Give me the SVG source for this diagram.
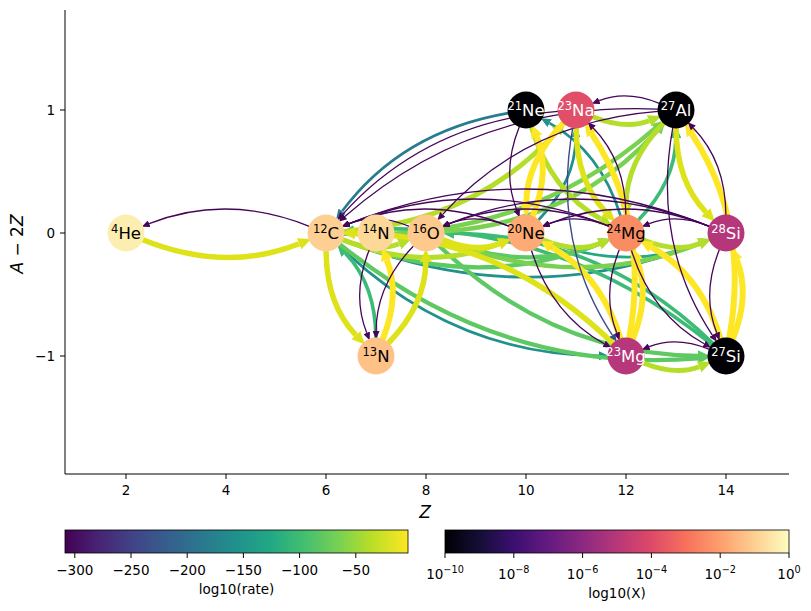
<svg xmlns="http://www.w3.org/2000/svg" width="811" height="611" viewBox="0 0 811 611">
<defs>
<linearGradient id="viridis" x1="0" x2="1" y1="0" y2="0">
<stop offset="0" stop-color="#440154"/><stop offset="0.1" stop-color="#482475"/><stop offset="0.2" stop-color="#414487"/><stop offset="0.3" stop-color="#355f8d"/><stop offset="0.4" stop-color="#2a788e"/><stop offset="0.5" stop-color="#21918c"/><stop offset="0.6" stop-color="#22a884"/><stop offset="0.7" stop-color="#44bf70"/><stop offset="0.8" stop-color="#7ad151"/><stop offset="0.9" stop-color="#bddf26"/><stop offset="1" stop-color="#fde725"/>
</linearGradient>
<linearGradient id="magma" x1="0" x2="1" y1="0" y2="0">
<stop offset="0" stop-color="#000004"/><stop offset="0.1" stop-color="#140e36"/><stop offset="0.2" stop-color="#3b0f70"/><stop offset="0.3" stop-color="#641a80"/><stop offset="0.4" stop-color="#8c2981"/><stop offset="0.5" stop-color="#b73779"/><stop offset="0.6" stop-color="#de4968"/><stop offset="0.7" stop-color="#f7705c"/><stop offset="0.8" stop-color="#fe9f6d"/><stop offset="0.9" stop-color="#fecf92"/><stop offset="1" stop-color="#fcfdbf"/>
</linearGradient>
<marker id="mp" markerUnits="userSpaceOnUse" markerWidth="8" markerHeight="7" viewBox="0 0 8 7" refX="0" refY="3.5" orient="auto"><path d="M0,0 L8,3.5 L0,7z" fill="#450559"/></marker>
<marker id="mi" markerUnits="userSpaceOnUse" markerWidth="8" markerHeight="7" viewBox="0 0 8 7" refX="0" refY="3.5" orient="auto"><path d="M0,0 L8,3.5 L0,7z" fill="#3e4a89"/></marker>
<marker id="mt1" markerUnits="userSpaceOnUse" markerWidth="10" markerHeight="9" viewBox="0 0 10 9" refX="0" refY="4.5" orient="auto"><path d="M0,0 L10,4.5 L0,9z" fill="#22a884"/></marker>
<marker id="mt2" markerUnits="userSpaceOnUse" markerWidth="10" markerHeight="9" viewBox="0 0 10 9" refX="0" refY="4.5" orient="auto"><path d="M0,0 L10,4.5 L0,9z" fill="#21918c"/></marker>
<marker id="mt3" markerUnits="userSpaceOnUse" markerWidth="10" markerHeight="9" viewBox="0 0 10 9" refX="0" refY="4.5" orient="auto"><path d="M0,0 L10,4.5 L0,9z" fill="#297b8e"/></marker>
<marker id="mg3" markerUnits="userSpaceOnUse" markerWidth="12" markerHeight="11" viewBox="0 0 12 11" refX="0" refY="5.5" orient="auto"><path d="M0,0 L12,5.5 L0,11z" fill="#3bbb75"/></marker>
<marker id="mg2" markerUnits="userSpaceOnUse" markerWidth="12" markerHeight="11" viewBox="0 0 12 11" refX="0" refY="5.5" orient="auto"><path d="M0,0 L12,5.5 L0,11z" fill="#5ec962"/></marker>
<marker id="mg1" markerUnits="userSpaceOnUse" markerWidth="12" markerHeight="11" viewBox="0 0 12 11" refX="0" refY="5.5" orient="auto"><path d="M0,0 L12,5.5 L0,11z" fill="#7ad151"/></marker>
<marker id="myg" markerUnits="userSpaceOnUse" markerWidth="13" markerHeight="12" viewBox="0 0 13 12" refX="0" refY="6" orient="auto"><path d="M0,0 L13,6 L0,12z" fill="#b5de2b"/></marker>
<marker id="my2" markerUnits="userSpaceOnUse" markerWidth="13" markerHeight="12" viewBox="0 0 13 12" refX="0" refY="6" orient="auto"><path d="M0,0 L13,6 L0,12z" fill="#dde318"/></marker>
<marker id="my1" markerUnits="userSpaceOnUse" markerWidth="13" markerHeight="12" viewBox="0 0 13 12" refX="0" refY="6" orient="auto"><path d="M0,0 L13,6 L0,12z" fill="#fde725"/></marker>
</defs>
<style>
text{font-family:"DejaVu Sans","Liberation Sans",sans-serif;fill:#000}
.tick{font-size:13.5px}
.nl{font-size:16.5px;text-anchor:middle}
.nl .s{font-size:11.5px}
.w{fill:#fff}
.ax{stroke:#000;stroke-width:1;fill:none}
#edges path{fill:none}
.p{stroke:#450559;stroke-width:1.3;marker-end:url(#mp)}
.ind{stroke:#3e4a89;stroke-width:1.4;marker-end:url(#mi)}
.t1{stroke:#22a884;stroke-width:2.8;marker-end:url(#mt1)}
.t2{stroke:#21918c;stroke-width:2.8;marker-end:url(#mt2)}
.t3{stroke:#297b8e;stroke-width:2.6;marker-end:url(#mt3)}
.g3{stroke:#3bbb75;stroke-width:3.6;marker-end:url(#mg3)}
.g2{stroke:#5ec962;stroke-width:4.3;marker-end:url(#mg2)}
.g1{stroke:#7ad151;stroke-width:4.5;marker-end:url(#mg1)}
.yg{stroke:#b5de2b;stroke-width:5;marker-end:url(#myg)}
.y2{stroke:#dde318;stroke-width:5.5;marker-end:url(#my2)}
.y1{stroke:#fde725;stroke-width:6;marker-end:url(#my1)}
</style>
<rect width="811" height="611" fill="#fff"/>
<g id="edges">
<path class="t2" d="M338.9,245.5 Q451.4,354.5 599,355.8"/>
<path class="t2" d="M342.7,239.7 Q526,313 700.9,243"/>
<path class="t1" d="M542.7,239.7 Q626,273 700.9,243"/>
<path class="t2" d="M538.5,220 Q575.6,181.5 575.8,137"/>
<path class="t2" d="M620.6,215.8 Q600.6,151.5 549.6,123.1"/>
<path class="t3" d="M508.3,113.1 Q401.4,131.5 342.1,211.3"/>
<path class="g3" d="M375.9,338 Q375.6,284.5 345.4,253.2"/>
<path class="g3" d="M638.5,220 Q675.6,181.5 675.8,138"/>
<path class="g3" d="M713.1,343.5 Q600.6,234.5 454,233.2"/>
<path class="g3" d="M712,344.7 Q550.6,214.5 353.9,230.7"/>
<path class="g2" d="M342.7,239.7 Q476,293 600,243.4"/>
<path class="g2" d="M442.7,239.7 Q526,273 600,243.4"/>
<path class="g2" d="M438.9,245.5 Q551.4,354.5 698,355.8"/>
<path class="g2" d="M340,244.3 Q501.4,374.5 698.1,358.3"/>
<path class="g1" d="M442.7,239.7 Q576,293 700,243.4"/>
<path class="g1" d="M443.9,231.6 Q575.6,221.5 657.3,130.8"/>
<path class="g1" d="M344,233.8 Q525.6,241.5 654.9,128.4"/>
<path class="yg" d="M342.7,239.7 Q376,253 399.1,243.8"/>
<path class="yg" d="M542.7,239.7 Q576,253 599.1,243.8"/>
<path class="yg" d="M642.7,239.7 Q676,253 699.1,243.8"/>
<path class="yg" d="M342.7,239.7 Q426,273 499.1,243.8"/>
<path class="yg" d="M592.7,116.7 Q626,130 649.1,120.8"/>
<path class="yg" d="M642.7,362.7 Q676,376 699.1,366.8"/>
<path class="yg" d="M663.5,123 Q626.4,161.5 626.2,204"/>
<path class="yg" d="M531.4,127.2 Q551.4,191.5 600.7,218.9"/>
<path class="yg" d="M343.9,231.6 Q475.6,221.5 556.6,131.6"/>
<path class="y2" d="M142.7,239.7 Q226,273 299.1,243.8"/>
<path class="y2" d="M326.1,251 Q326.4,304.5 355.9,335.1"/>
<path class="y2" d="M388.5,343 Q425.6,304.5 425.8,262"/>
<path class="y2" d="M442.7,239.7 Q476,253 499.1,243.8"/>
<path class="y2" d="M576.1,128 Q576.4,181.5 605.9,212.1"/>
<path class="y2" d="M676.1,128 Q676.4,181.5 705.9,212.1"/>
<path class="y2" d="M613.1,343.5 Q500.6,234.5 355,233.2"/>
<path class="y1" d="M382.7,339.3 Q400.6,294.5 386.8,259.9"/>
<path class="y1" d="M532.7,216.3 Q550.6,171.5 536.8,136.9"/>
<path class="y1" d="M563.5,123 Q526.4,161.5 526.2,204"/>
<path class="y1" d="M632.7,339.3 Q650.6,294.5 636.8,259.9"/>
<path class="y1" d="M732.7,339.3 Q750.6,294.5 736.8,259.9"/>
<path class="y1" d="M629.2,338.3 Q650.2,223 591.9,134.2"/>
<path class="y1" d="M729.2,338.3 Q750.2,223 691.9,134.2"/>
<path class="y1" d="M620.6,338.8 Q600.6,274.5 551.3,247.1"/>
<path class="y1" d="M720.6,338.8 Q700.6,274.5 651.3,247.1"/>
<path class="p" d="M309.3,226.3 Q226,193 149.2,223.7"/>
<path class="p" d="M369.3,249.7 Q351.4,294.5 366.7,332.8"/>
<path class="p" d="M413.5,246 Q376.4,284.5 376.1,331"/>
<path class="p" d="M409.3,226.3 Q376,213 349.2,223.7"/>
<path class="p" d="M509.3,226.3 Q476,213 449.2,223.7"/>
<path class="p" d="M609.3,226.3 Q576,213 549.2,223.7"/>
<path class="p" d="M709.3,226.3 Q676,213 649.2,223.7"/>
<path class="p" d="M509.3,226.3 Q426,193 349.2,223.7"/>
<path class="p" d="M609.3,226.3 Q476,173 349.2,223.7"/>
<path class="p" d="M609.3,226.3 Q526,193 449.2,223.7"/>
<path class="p" d="M709.3,226.3 Q576,173 449.2,223.7"/>
<path class="p" d="M709.3,226.3 Q526,153 349.2,223.7"/>
<path class="p" d="M709.3,226.3 Q626,193 549.2,223.7"/>
<path class="p" d="M659.3,103.3 Q626,90 599.2,100.7"/>
<path class="p" d="M709.3,349.3 Q676,336 649.2,346.7"/>
<path class="p" d="M519.3,126.7 Q501.4,171.5 516.7,209.8"/>
<path class="p" d="M619.3,249.7 Q601.4,294.5 616.7,332.8"/>
<path class="p" d="M719.3,249.7 Q701.4,294.5 716.7,332.8"/>
<path class="p" d="M625.9,215 Q625.6,161.5 593.3,128"/>
<path class="p" d="M725.9,215 Q725.6,161.5 693.3,128"/>
<path class="p" d="M672.8,127.7 Q651.8,243 712.3,335.1"/>
<path class="p" d="M531.4,250.2 Q551.4,314.5 604.2,343.8"/>
<path class="p" d="M631.4,250.2 Q651.4,314.5 704.2,343.8"/>
<path class="p" d="M558.1,111.4 Q426.4,121.5 342.7,214.4"/>
<path class="p" d="M658.1,111.4 Q526.4,121.5 442.7,214.4"/>
<path class="p" d="M658,109.2 Q476.4,101.5 344.8,216.5"/>
<path class="ind" d="M572.8,127.7 Q551.8,243 612.3,335.1"/>
</g>
<g id="he4"><circle cx="126" cy="233" r="18.5" fill="#fbeeb0"/><text class="nl" x="126" y="239"><tspan class="s" dy="-6">4</tspan><tspan dy="6">He</tspan></text></g>
<g id="c12"><circle cx="326" cy="233" r="18.5" fill="#fecf92"/><text class="nl" x="326" y="239"><tspan class="s" dy="-6">12</tspan><tspan dy="6">C</tspan></text></g>
<g id="n14"><circle cx="376" cy="233" r="18.5" fill="#fed899"/><text class="nl" x="376" y="239"><tspan class="s" dy="-6">14</tspan><tspan dy="6">N</tspan></text></g>
<g id="o16"><circle cx="426" cy="233" r="18.5" fill="#fec98d"/><text class="nl" x="426" y="239"><tspan class="s" dy="-6">16</tspan><tspan dy="6">O</tspan></text></g>
<g id="ne20"><circle cx="526" cy="233" r="18.5" fill="#fdaa74"/><text class="nl" x="526" y="239"><tspan class="s" dy="-6">20</tspan><tspan dy="6">Ne</tspan></text></g>
<g id="mg24"><circle cx="626" cy="233" r="18.5" fill="#fa8c63"/><text class="nl" x="626" y="239"><tspan class="s" dy="-6">24</tspan><tspan dy="6">Mg</tspan></text></g>
<g id="si28"><circle cx="726" cy="233" r="18.5" fill="#b5367a"/><text class="nl w" x="726" y="239"><tspan class="s" dy="-6">28</tspan><tspan dy="6">Si</tspan></text></g>
<g id="n13"><circle cx="376" cy="356" r="18.5" fill="#fec287"/><text class="nl" x="376" y="362"><tspan class="s" dy="-6">13</tspan><tspan dy="6">N</tspan></text></g>
<g id="ne21"><circle cx="526" cy="110" r="18.5" fill="#000004"/><text class="nl w" x="526" y="116"><tspan class="s" dy="-6">21</tspan><tspan dy="6">Ne</tspan></text></g>
<g id="na23"><circle cx="576" cy="110" r="18.5" fill="#e04e67"/><text class="nl w" x="576" y="116"><tspan class="s" dy="-6">23</tspan><tspan dy="6">Na</tspan></text></g>
<g id="al27"><circle cx="676" cy="110" r="18.5" fill="#000004"/><text class="nl w" x="676" y="116"><tspan class="s" dy="-6">27</tspan><tspan dy="6">Al</tspan></text></g>
<g id="mg23"><circle cx="626" cy="356" r="18.5" fill="#b6377a"/><text class="nl w" x="626" y="362"><tspan class="s" dy="-6">23</tspan><tspan dy="6">Mg</tspan></text></g>
<g id="si27"><circle cx="726" cy="356" r="18.5" fill="#000004"/><text class="nl w" x="726" y="362"><tspan class="s" dy="-6">27</tspan><tspan dy="6">Si</tspan></text></g>
<g id="axes">
<path class="ax" d="M65,10 V474 H789"/>
<path class="ax" d="M126,474v5M226,474v5M326,474v5M426,474v5M526,474v5M626,474v5M726,474v5M60,110h5M60,233h5M60,356h5"/>
<g class="tick" text-anchor="middle">
<text x="126" y="495">2</text><text x="226" y="495">4</text><text x="326" y="495">6</text><text x="426" y="495">8</text><text x="526" y="495">10</text><text x="626" y="495">12</text><text x="726" y="495">14</text>
</g>
<g class="tick" text-anchor="end">
<text x="55" y="115">1</text><text x="55" y="238">0</text><text x="55" y="361">−1</text>
</g>
<text x="425" y="518" font-size="17" font-style="italic" text-anchor="middle">Z</text>
<text transform="translate(23,244) rotate(-90)" font-size="17" text-anchor="middle"><tspan font-style="italic">A</tspan> − 2<tspan font-style="italic">Z</tspan></text>
</g>
<g id="colorbar-rate">
<rect x="65" y="530" width="343" height="23" fill="url(#viridis)" stroke="#000" stroke-width="0.8"/>
<path class="ax" d="M74.8,553v5M131,553v5M187.2,553v5M243.4,553v5M299.6,553v5M355.8,553v5"/>
<g class="tick" text-anchor="middle">
<text x="74.8" y="575">−300</text><text x="131" y="575">−250</text><text x="187.2" y="575">−200</text><text x="243.4" y="575">−150</text><text x="299.6" y="575">−100</text><text x="355.8" y="575">−50</text>
</g>
<text x="236.5" y="594" class="tick" text-anchor="middle">log10(rate)</text>
</g>
<g id="colorbar-x">
<rect x="445" y="530" width="344" height="23" fill="url(#magma)" stroke="#000" stroke-width="0.8"/>
<path class="ax" d="M445,553v5M513.8,553v5M582.6,553v5M651.4,553v5M720.2,553v5M789,553v5"/>
<g class="tick" text-anchor="middle">
<text x="445" y="579">10<tspan font-size="9.7" dy="-6">−10</tspan></text>
<text x="513.8" y="579">10<tspan font-size="9.7" dy="-6">−8</tspan></text>
<text x="582.6" y="579">10<tspan font-size="9.7" dy="-6">−6</tspan></text>
<text x="651.4" y="579">10<tspan font-size="9.7" dy="-6">−4</tspan></text>
<text x="720.2" y="579">10<tspan font-size="9.7" dy="-6">−2</tspan></text>
<text x="789" y="579">10<tspan font-size="9.7" dy="-6">0</tspan></text>
</g>
<text x="617" y="598" class="tick" text-anchor="middle">log10(X)</text>
</g>
</svg>
